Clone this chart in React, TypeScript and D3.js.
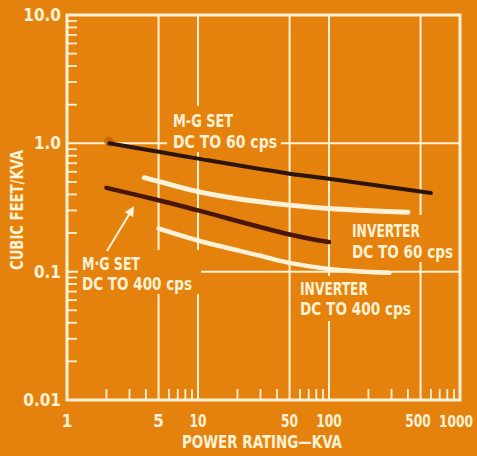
import React from "react";
import * as d3 from "d3";

const W = 477;
const H = 456;

// axis ticks
const xMajor = [1, 5, 10, 50, 100, 500, 1000];
const xGrid = [5, 10, 50, 100, 500];
const yMajor = [10, 1, 0.1, 0.01];
const yLabels = ["10.0", "1.0", "0.1", "0.01"];
const yGrid = [1, 0.1];

// series (kVA, cubic feet / kVA)
const mg60X = [2.1, 5, 10, 50, 100, 600];
const mg60Y = [1.0, 0.86, 0.76, 0.58, 0.53, 0.41];
const inv60X = [3.9, 5, 10, 20, 50, 100, 400];
const inv60Y = [0.54, 0.505, 0.42, 0.37, 0.33, 0.31, 0.29];
const mg400X = [2, 5, 10, 50, 100];
const mg400Y = [0.45, 0.36, 0.3, 0.195, 0.17];
const inv400X = [5, 10, 30, 50, 100, 290];
const inv400Y = [0.217, 0.175, 0.133, 0.117, 0.105, 0.098];

const BG = "#e5820e";
const CREAM = "#fff2d6";
const FONT = "'Liberation Sans Narrow', 'DejaVu Sans Condensed', 'Arial Narrow', sans-serif";

export default function App() {
  const x = d3.scaleLog().domain([1, 1000]).range([67, 460]);
  const y = d3.scaleLog().domain([0.01, 10]).range([400, 15]);

  const line = d3
    .line<[number, number]>()
    .x((d) => x(d[0]))
    .y((d) => y(d[1]))
    .curve(d3.curveCatmullRom.alpha(0.5));

  const zip = (a: number[], b: number[]) => a.map((v, i) => [v, b[i]] as [number, number]);

  // minor ticks
  const minors: number[] = [];
  [1, 10, 100].forEach((dec) => {
    for (let k = 2; k <= 9; k++) if (k !== 5) minors.push(dec * k);
  });
  const yMinors: number[] = [];
  [0.01, 0.1, 1].forEach((dec) => {
    for (let k = 2; k <= 9; k++) yMinors.push(dec * k);
  });

  const masks = [
    { x: 167, y: 106, w: 114, h: 46 },
    { x: 348, y: 215, w: 110, h: 47 },
    { x: 296, y: 276, w: 118, h: 45 },
    { x: 78, y: 250, w: 123, h: 44 },
  ];

  const labels = [
    { t: "M-G SET", x: 173, y: 127, len: 60 },
    { t: "DC TO 60 cps", x: 173, y: 148, len: 104 },
    { t: "INVERTER", x: 352, y: 237, len: 68 },
    { t: "DC TO 60 cps", x: 352, y: 258, len: 101 },
    { t: "INVERTER", x: 300, y: 295, len: 68 },
    { t: "DC TO 400 cps", x: 300, y: 315, len: 111 },
    { t: "M·G SET", x: 82, y: 270, len: 58 },
    { t: "DC TO 400 cps", x: 82, y: 290, len: 110 },
  ];

  const xLabelPos = (v: number) => (v === 1000 ? 456 : v === 500 ? 418 : x(v));

  return (
    <svg
      width={W}
      height={H}
      style={{ position: "absolute", left: 0, top: 0, display: "block" }}
    >
      <defs>
        <marker id="ah" viewBox="0 0 10 10" refX="8" refY="5" markerWidth="5" markerHeight="5" orient="auto">
          <path d="M0,0 L10,5 L0,10 z" fill={CREAM} />
        </marker>
      </defs>
      <rect width={W} height={H} fill={BG} />

      {/* grid lines */}
      {xGrid.map((v) => (
        <line key={"gx" + v} x1={x(v)} x2={x(v)} y1={y(10)} y2={y(0.01)} stroke={CREAM} strokeWidth={2} />
      ))}
      {yGrid.map((v) => (
        <line key={"gy" + v} x1={x(1)} x2={x(1000)} y1={y(v)} y2={y(v)} stroke={CREAM} strokeWidth={2} />
      ))}

      {/* minor ticks */}
      {minors.map((v) => (
        <line key={"mx" + v} x1={x(v)} x2={x(v)} y1={y(0.01)} y2={y(0.01) - 11} stroke={CREAM} strokeWidth={1.8} />
      ))}
      {yMinors.map((v) => (
        <line key={"my" + v} x1={x(1)} x2={x(1) + 10} y1={y(v)} y2={y(v)} stroke={CREAM} strokeWidth={1.8} />
      ))}

      {/* frame */}
      <rect x={x(1)} y={y(10)} width={x(1000) - x(1)} height={y(0.01) - y(10)} fill="none" stroke={CREAM} strokeWidth={3} />

      {/* label masks */}
      {masks.map((m, i) => (
        <rect key={"m" + i} x={m.x} y={m.y} width={m.w} height={m.h} fill={BG} />
      ))}

      {/* curves */}
      <circle cx={x(2.1)} cy={y(1.03)} r={5} fill="#c8600a" opacity={0.8} />
      <path d={line(zip(mg60X, mg60Y)) || ""} fill="none" stroke="#2a1508" strokeWidth={4} strokeLinecap="round" />
      <path d={line(zip(inv60X, inv60Y)) || ""} fill="none" stroke={CREAM} strokeWidth={5} strokeLinecap="round" />
      <path d={line(zip(mg400X, mg400Y)) || ""} fill="none" stroke="#4a1608" strokeWidth={4.5} strokeLinecap="round" />
      <path d={line(zip(inv400X, inv400Y)) || ""} fill="none" stroke={CREAM} strokeWidth={4.5} strokeLinecap="round" />

      {/* arrow */}
      <line x1={107} y1={251} x2={133} y2={208} stroke={CREAM} strokeWidth={2} markerEnd="url(#ah)" />

      {/* labels */}
      {labels.map((l, i) => (
        <text
          key={"l" + i}
          x={l.x}
          y={l.y}
          fill={CREAM}
          fontFamily={FONT}
          fontWeight="bold"
          fontSize={18}
          textLength={l.len}
          lengthAdjust="spacingAndGlyphs"
        >
          {l.t}
        </text>
      ))}

      {/* y tick labels */}
      {yMajor.map((v, i) => (
        <text key={"yl" + v} x={61} y={y(v) + 6} textAnchor="end" fill={CREAM} fontFamily={FONT} fontWeight="bold" fontSize={17}>
          {yLabels[i]}
        </text>
      ))}

      {/* x tick labels */}
      {xMajor.map((v) => {
        const s = String(v);
        return (
          <text
            key={"xl" + v}
            x={xLabelPos(v)}
            y={427}
            textAnchor="middle"
            fill={CREAM}
            fontFamily={FONT}
            fontWeight="bold"
            fontSize={s.length > 3 ? 15 : 17}
            textLength={s.length > 1 ? s.length * 8.5 : undefined}
            lengthAdjust="spacingAndGlyphs"
          >
            {s}
          </text>
        );
      })}

      {/* axis titles */}
      <text x={262} y={448} textAnchor="middle" fill={CREAM} fontFamily={FONT} fontWeight="bold" fontSize={18} textLength={160} lengthAdjust="spacingAndGlyphs">
        POWER RATING—KVA
      </text>
      <text
        transform="translate(23,210) rotate(-90)"
        textAnchor="middle"
        fill={CREAM}
        fontFamily={FONT}
        fontWeight="bold"
        fontSize={18}
        textLength={120}
        lengthAdjust="spacingAndGlyphs"
      >
        CUBIC FEET/KVA
      </text>
    </svg>
  );
}
